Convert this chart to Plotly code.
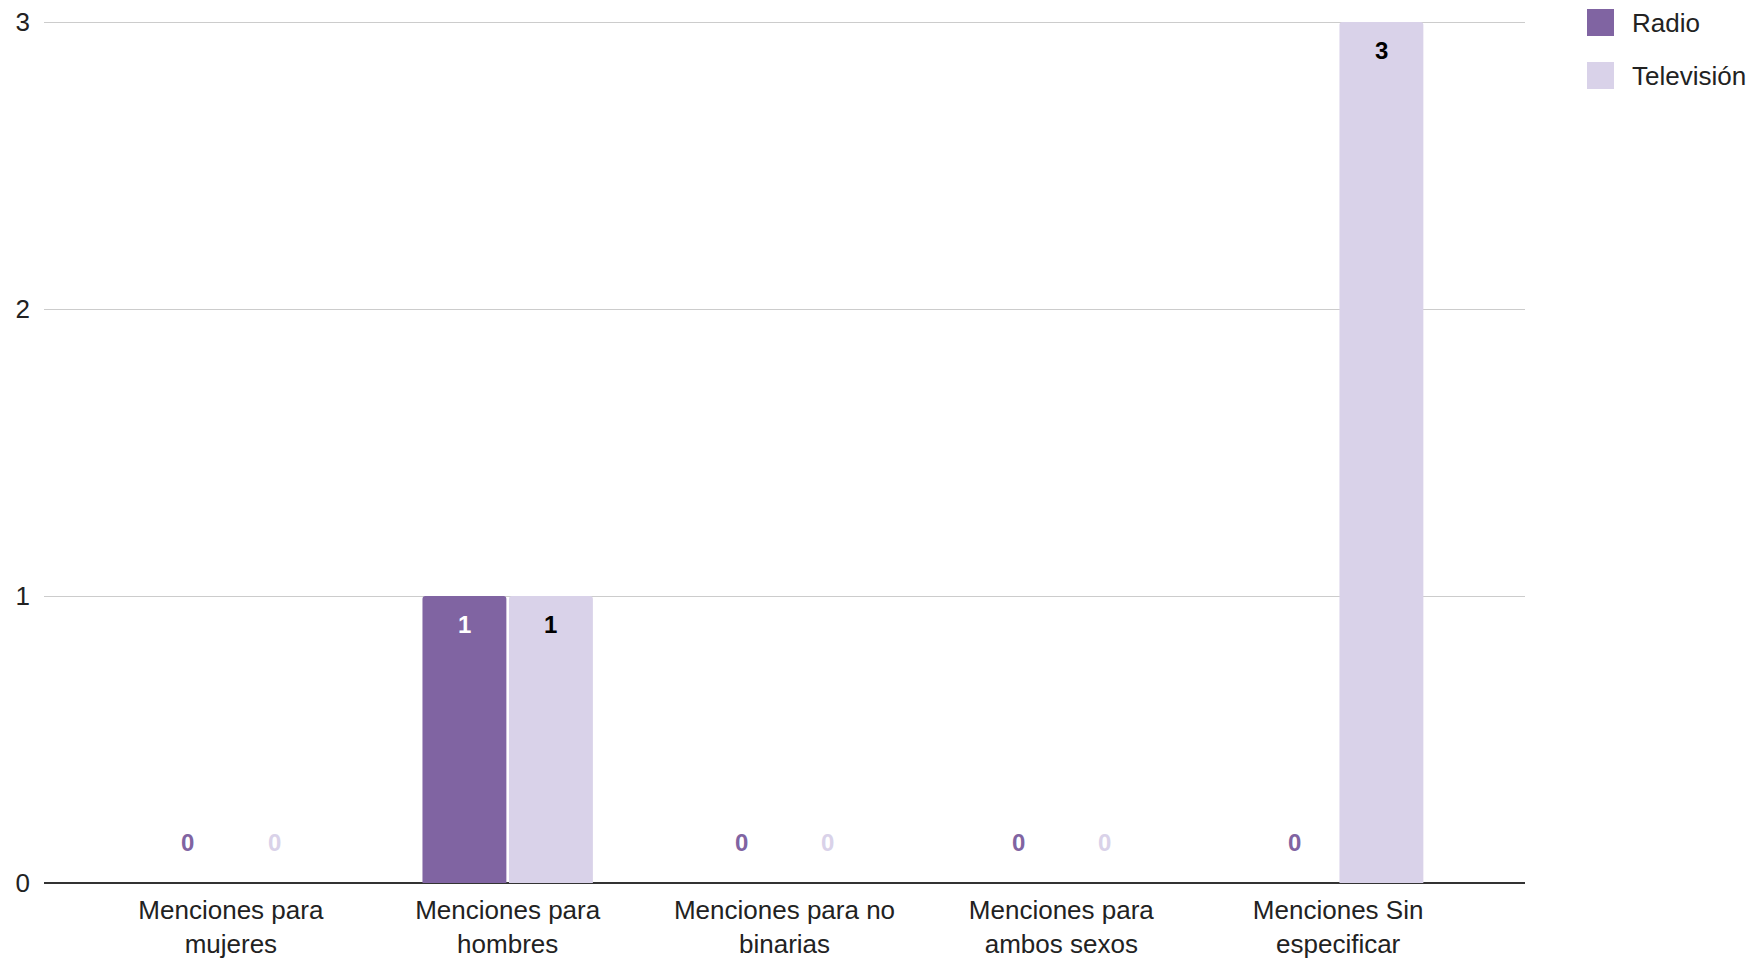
import plotly.graph_objects as go

categories = ["Menciones para<br>mujeres", "Menciones para<br>hombres", "Menciones para no<br>binarias",
              "Menciones para<br>ambos sexos", "Menciones Sin<br>especificar"]
radio = [0, 1, 0, 0, 0]
television = [0, 1, 0, 0, 3]
y_ticks = [0, 1, 2, 3]

RADIO_C = "#8064a2"
TV_C = "#d9d2e9"
FONT = "Arial, Liberation Sans, sans-serif"

OFF = 8  # page body margin
TOPPAD = 2  # px of headroom so the top gridline is drawn
W, H = 1758 - OFF, 961 - OFF
ML, MT = 44 - OFF, 22 - OFF - TOPPAD
MR = W - (1525 - OFF)
MB = H - (883 - OFF)
XPAD = 0.175
BARGAP = 0.375
GROUPGAP = 0.03

fig = go.Figure()
fig.add_trace(go.Bar(x=categories, y=radio, name="Radio", marker_color=RADIO_C,
                     marker_line_width=0, showlegend=False))
fig.add_trace(go.Bar(x=categories, y=television, name="Televisión", marker_color=TV_C,
                     marker_line_width=0, showlegend=False))

plot_w = W - ML - MR
plot_h = H - MT - MB
ymax = max(y_ticks) * plot_h / (plot_h - TOPPAD)
cat_px = plot_w / (len(categories) + 2 * XPAD)
slot = cat_px * (1 - BARGAP) / 2
shift = slot / 2

annotations = []
for series, color, inside_col, sgn in [(radio, RADIO_C, "#ffffff", -1), (television, TV_C, "#000000", 1)]:
    for c, v in zip(categories, series):
        annotations.append(dict(
            x=c, y=v, xref="x", yref="y", text=f"<b>{v}</b>", showarrow=False,
            xshift=sgn * shift, yshift=(-28 if v > 0 else 41), yanchor="middle",
            font=dict(family=FONT, size=24, color=(inside_col if v > 0 else color)),
        ))

# custom legend (pixel positions in page coords)
legend_items = [("Radio", RADIO_C), ("Televisión", TV_C)]
for i, (name, col) in enumerate(legend_items):
    top = 9 + i * 53 - OFF
    fig.add_shape(type="rect", xref="paper", yref="paper",
                  x0=(1587 - OFF - ML) / plot_w, x1=(1614 - OFF - ML) / plot_w,
                  y0=1 - (top + 27 - MT) / plot_h, y1=1 - (top - MT) / plot_h,
                  fillcolor=col, line=dict(width=0), layer="above")
    annotations.append(dict(x=(1630 - OFF - ML) / plot_w, y=1 - (top + 13.5 - MT) / plot_h,
                            xref="paper", yref="paper", text=name, showarrow=False,
                            xanchor="left", yanchor="middle",
                            font=dict(family=FONT, size=26, color="#222222")))

fig.update_layout(
    width=W, height=H,
    margin=dict(l=ML, r=MR, t=MT, b=MB, autoexpand=False),
    paper_bgcolor="white", plot_bgcolor="white",
    barmode="group", bargap=BARGAP, bargroupgap=GROUPGAP,
    barcornerradius=3,
    font=dict(family=FONT, size=26, color="#222222"),
    annotations=annotations,
    showlegend=False,
)
fig.update_xaxes(range=[-0.5 - XPAD, len(categories) - 0.5 + XPAD], showgrid=False, ticks="",
                 tickfont=dict(size=26, color="#222222"), ticklabelstandoff=9,
                 automargin=False, ticklabeloverflow="allow")
fig.update_yaxes(range=[0, ymax], tickvals=y_ticks, showgrid=True, gridcolor="#cccccc", gridwidth=1,
                 zeroline=True, zerolinecolor="#333333", zerolinewidth=1.5,
                 tickfont=dict(size=26, color="#222222"), ticks="", ticklabelstandoff=13,
                 automargin=False, ticklabeloverflow="allow")

fig.write_html("out.html")
